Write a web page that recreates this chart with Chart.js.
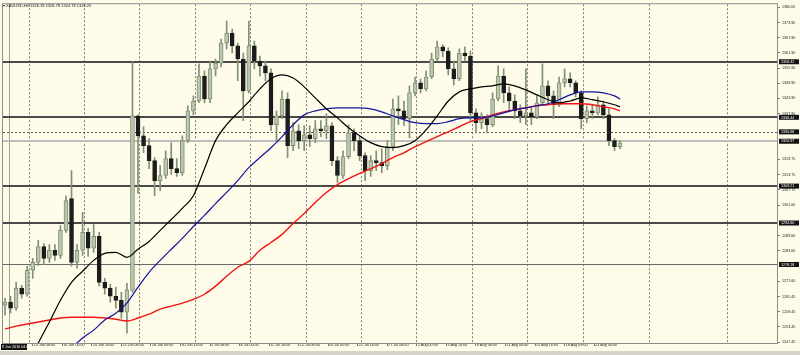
<!DOCTYPE html>
<html>
<head>
<meta charset="utf-8">
<script src="https://cdn.jsdelivr.net/npm/chart.js@4.4.1/dist/chart.umd.min.js"></script>
<style>
  html, body { margin: 0; padding: 0; background: #d6d3ca; }
  #wrap { position: relative; width: 800px; height: 351px; background: #fefce9; }
  #title { position: absolute; left: 3px; top: 3px; font: 4px 'Liberation Sans', Arial, sans-serif; color: #111; white-space: nowrap; }
</style>
</head>
<body>
<div id="wrap">
  <canvas id="cvs" width="800" height="351"></canvas>
  <div id="title">&#9662; XAUUSD,H4 1326.33 1326.78 1324.78 1326.25</div>
</div>
<script>
// time axis is in H4 bars, bar 0 = 13 Jun 00:00; each candle below = 12 hours (3 bars)
const firstBar = -13;
const barsPerCandle = 3;

const opens = [1262.1,1263.3,1260.9,1268.8,1266.4,1275.9,1279.0,1285.3,1280.6,1283.8,
  1281.8,1291.7,1304.3,1279.0,1283.8,1290.9,1284.6,1289.3,1271.1,1268.8,
  1265.6,1264.0,1259.3,1268.0,1337.0,1329.1,1325.2,1319.3,1311.4,1313.4,
  1320.1,1316.1,1314.5,1327.2,1339.0,1342.9,1352.8,1343.7,1355.6,1357.9,
  1365.8,1369.8,1364.7,1359.5,1346.9,1364.7,1358.7,1356.8,1354.0,1333.5,
  1337.0,1343.7,1325.2,1331.1,1327.2,1329.5,1328.0,1331.9,1331.1,1333.1,
  1319.3,1313.4,1320.9,1330.3,1327.2,1321.3,1315.3,1319.3,1318.5,1317.3,
  1324.8,1339.8,1339.0,1335.9,1346.1,1350.1,1347.7,1352.4,1359.5,1364.3,
  1362.7,1355.6,1351.7,1361.9,1360.7,1338.2,1334.3,1335.9,1333.5,1343.7,
  1352.8,1346.1,1342.9,1339.0,1337.0,1338.2,1336.6,1342.2,1348.9,1344.9,
  1341.4,1350.1,1351.7,1350.1,1346.1,1335.9,1339.0,1338.2,1341.4,1337.4,
  1327.2,1324.8];
const highs = [1264.8,1265.6,1271.1,1269.9,1277.5,1280.6,1287.7,1286.5,1286.1,1286.1,
  1293.6,1305.4,1315.3,1286.1,1298.8,1292.5,1294.0,1290.9,1272.7,1270.3,
  1269.2,1267.2,1270.7,1358.4,1337.4,1332.7,1328.0,1320.5,1317.3,1323.2,
  1326.4,1320.1,1329.1,1341.0,1344.9,1357.6,1354.8,1358.7,1359.5,1367.4,
  1374.5,1371.4,1365.8,1361.9,1374.5,1366.6,1360.7,1358.7,1355.6,1339.0,
  1346.9,1346.1,1334.3,1333.5,1333.1,1333.1,1335.1,1335.1,1337.8,1334.3,
  1320.9,1323.2,1333.5,1331.9,1328.8,1322.4,1321.3,1323.2,1324.0,1327.2,
  1343.7,1344.9,1342.9,1348.9,1352.4,1351.7,1354.8,1361.9,1366.6,1365.1,
  1363.9,1358.7,1363.5,1364.3,1362.7,1339.8,1338.2,1337.4,1346.1,1356.8,
  1355.6,1348.5,1345.3,1341.4,1355.6,1340.6,1344.9,1357.6,1350.9,1346.9,
  1352.4,1355.6,1354.0,1350.9,1346.9,1341.0,1341.4,1344.5,1342.9,1339.8,
  1328.0,1327.2];
const lows = [1258.1,1258.9,1260.1,1264.8,1265.6,1272.7,1277.8,1278.2,1279.0,1279.8,
  1280.6,1290.9,1277.5,1276.7,1281.8,1281.4,1283.0,1269.6,1266.4,1263.3,
  1260.9,1256.9,1251.0,1267.2,1306.3,1322.4,1316.1,1305.4,1307.4,1312.2,
  1313.8,1313.0,1313.4,1326.4,1337.4,1342.2,1342.2,1342.2,1352.8,1356.4,
  1363.5,1361.9,1350.9,1335.1,1346.1,1355.6,1352.8,1350.9,1331.1,1327.2,
  1335.9,1320.5,1323.2,1324.0,1323.2,1324.8,1326.4,1328.8,1328.0,1317.3,
  1310.6,1312.2,1320.1,1323.2,1319.3,1311.4,1313.0,1315.3,1314.5,1315.7,
  1323.2,1333.5,1333.1,1328.4,1344.9,1346.1,1346.9,1351.7,1358.7,1360.3,
  1353.2,1349.3,1350.9,1358.7,1335.1,1330.3,1331.9,1330.3,1332.7,1342.9,
  1342.2,1339.0,1335.9,1334.3,1333.5,1333.5,1335.9,1341.4,1342.2,1335.9,
  1340.6,1348.5,1348.5,1344.5,1331.9,1334.3,1335.9,1337.4,1335.9,1325.2,
  1323.2,1324.0];
const closes = [1263.3,1260.9,1268.8,1266.4,1275.9,1279.0,1285.3,1280.6,1283.8,1281.8,
  1291.7,1303.5,1279.0,1283.8,1290.9,1284.6,1289.3,1271.1,1268.8,1265.6,
  1264.0,1259.3,1268.0,1337.0,1329.1,1325.2,1319.3,1311.4,1313.4,1320.1,
  1316.1,1314.5,1327.2,1339.0,1342.9,1352.8,1343.7,1355.6,1357.9,1365.8,
  1369.8,1364.7,1359.5,1346.9,1364.7,1358.7,1356.8,1354.0,1333.5,1337.0,
  1343.7,1325.2,1331.1,1327.2,1329.5,1328.0,1331.9,1331.1,1333.1,1319.3,
  1313.4,1320.9,1330.3,1327.2,1321.3,1315.3,1319.3,1318.5,1317.3,1324.8,
  1339.8,1339.0,1335.9,1346.1,1350.1,1347.7,1352.4,1359.5,1364.3,1362.7,
  1355.6,1351.7,1361.9,1360.7,1338.2,1334.3,1335.9,1333.5,1343.7,1352.8,
  1346.1,1342.9,1339.0,1337.0,1338.2,1336.6,1342.2,1348.9,1344.9,1341.4,
  1350.1,1351.7,1350.1,1346.1,1335.9,1339.0,1338.2,1341.4,1337.4,1327.2,
  1324.8,1326.25];

// moving averages, sampled every 6 bars
const maBars = [-13,-7,-1,5,11,17,23,29,35,41,47,53,59,65,71,77,83,89,95,101,
  107,113,119,125,131,137,143,149,155,161,167,173,179,185,191,197,203,209,215,221,
  227,233,239,245,251,257,263,269,275,281,287,293,299,305,311,317,320];
const maBlack = [null,null,1238.4,1247.1,1255.4,1264.0,1271.1,1275.5,1279.8,1282.6,
  1283.0,1281.0,1284.2,1287.3,1291.7,1296.0,1300.4,1305.4,1316.1,1327.2,
  1333.5,1338.2,1342.6,1347.7,1351.7,1353.2,1352.0,1348.5,1344.1,1339.8,
  1336.2,1332.3,1329.1,1326.4,1324.8,1324.4,1325.2,1327.2,1331.5,1337.0,
  1342.9,1346.5,1347.7,1348.5,1348.9,1349.7,1348.9,1347.3,1345.3,1343.4,
  1342.2,1342.9,1344.1,1343.4,1342.6,1341.4,1340.6];
const maBlue = [null,null,null,null,null,null,1245.1,1249.1,1252.2,1256.2,
  1258.9,1262.9,1269.2,1275.1,1279.8,1284.2,1288.5,1293.2,1297.6,1302.3,
  1306.7,1311.4,1316.5,1320.5,1324.4,1328.8,1333.5,1337.4,1339.0,1339.8,
  1340.2,1340.2,1340.2,1339.8,1338.6,1337.0,1335.5,1334.3,1333.9,1333.9,
  1334.7,1335.9,1336.2,1336.2,1337.0,1338.2,1339.4,1340.2,1341.0,1341.8,
  1343.4,1345.3,1346.5,1346.5,1346.1,1344.9,1343.7];
const maRed = [1252.6,1253.8,1254.6,1255.4,1256.2,1257.0,1257.3,1257.3,1257.3,1257.0,
  1256.5,1255.8,1257.0,1258.5,1260.5,1261.7,1262.9,1264.4,1266.4,1269.6,
  1273.5,1277.1,1279.4,1283.8,1286.9,1290.1,1294.4,1298.4,1302.7,1306.7,
  1309.8,1312.2,1314.2,1316.1,1318.1,1320.5,1322.4,1324.8,1326.8,1328.8,
  1330.7,1332.7,1334.7,1335.9,1337.4,1338.6,1339.4,1340.2,1341.0,1341.4,
  1341.8,1341.8,1341.8,1341.4,1340.6,1339.8,1339.0];

// axes
const timeLabels = ['13 Jun 08:00','16 Jun 00:00','20 Jun 16:00','23 Jun 08:00','28 Jun 00:00',
  '30 Jun 16:00','5 Jul 08:00','8 Jul 00:00','12 Jul 16:00','15 Jul 08:00','20 Jul 00:00',
  '22 Jul 16:00','27 Jul 08:00','1 Aug 00:00','3 Aug 16:00','8 Aug 08:00','11 Aug 00:00',
  '15 Aug 16:00','18 Aug 08:00','23 Aug 00:00'];
const labelBars = [2,18,34,50,66,82,98,114,130,146,162,178,194,210,226,242,258,274,290,306];
// week separators; past the last bar the terminal counts calendar time, weekends included
const weekBars = [0,30,60,90,120,150,180,210,240,270,300,336,378];
const priceTicks = [1380.05,1373.90,1367.90,1361.90,1355.90,1349.90,1343.90,1337.90,
  1319.75,1313.75,1307.75,1301.60,1289.60,1283.60,1271.60,1265.45,1259.45,1253.45,1247.45];
const firstDate = '9 Jun 2016 04:00';

// horizontal line objects
const levels = [1358.42, 1336.44, 1330.68, 1326.97, 1309.21, 1294.60, 1278.18];
const levelStyle = [
  { c: '#4a4a4a', w: 2 }, { c: '#4a4a4a', w: 2 }, { c: '#555', w: 1, d: [2, 2] },
  { c: '#bdbdbd', w: 2 }, { c: '#4a4a4a', w: 2 }, { c: '#4a4a4a', w: 2 }, { c: '#6a6a6a', w: 1 }
];
const markBars = [-11];

const candleBars = opens.map((_, i) => firstBar + i * barsPerCandle);
const tickFont = { family: "'Liberation Sans', Arial, sans-serif", size: 3.7 };

const overlay = {
  id: 'overlay',
  beforeDatasetsDraw(chart) {
    const { ctx, chartArea: a, scales } = chart;
    ctx.save();
    ctx.beginPath();
    ctx.rect(a.left, a.top, a.right - a.left, a.bottom - a.top);
    ctx.clip();
    markBars.forEach(b => {
      const px = Math.round(scales.x.getPixelForValue(b)) + 0.5;
      ctx.strokeStyle = '#9aa88f';
      ctx.lineWidth = 1;
      ctx.beginPath(); ctx.moveTo(px, a.top); ctx.lineTo(px, a.bottom); ctx.stroke();
    });
    levels.forEach((p, i) => {
      const st = levelStyle[i];
      const py = Math.round(scales.y.getPixelForValue(p)) + (st.w % 2 ? 0.5 : 0);
      ctx.strokeStyle = st.c;
      ctx.lineWidth = st.w;
      ctx.setLineDash(st.d || []);
      ctx.beginPath(); ctx.moveTo(a.left, py); ctx.lineTo(a.right, py); ctx.stroke();
    });
    ctx.restore();
  },
  afterDraw(chart) {
    const { ctx, chartArea: a, scales } = chart;
    ctx.save();
    ctx.strokeStyle = '#8c8c8c';
    ctx.lineWidth = 1;
    ctx.strokeRect(a.left - 0.5, a.top - 0.5, a.right - a.left + 1, a.bottom - a.top + 1);
    ctx.font = "3.7px 'Liberation Sans', Arial, sans-serif";
    ctx.textBaseline = 'middle';
    levels.forEach(p => {
      const py = scales.y.getPixelForValue(p);
      ctx.fillStyle = '#111';
      ctx.fillRect(a.right + 2, py - 2.5, 20, 5);
      ctx.fillStyle = '#fff';
      ctx.fillText(p.toFixed(2), a.right + 4, py + 0.2);
    });
    ctx.fillStyle = '#111';
    ctx.fillRect(1, a.bottom + 1, 26, 6);
    ctx.fillStyle = '#fff';
    ctx.fillText(firstDate, 2, a.bottom + 4);
    ctx.restore();
  }
};

new Chart(document.getElementById('cvs'), {
  type: 'bar',
  data: {
    datasets: [
      {
        type: 'line', order: 0, label: 'MA black',
        data: maBars.map((b, i) => ({ x: b, y: maBlack[i] })),
        borderColor: '#000', borderWidth: 1.2, pointRadius: 0, cubicInterpolationMode: 'monotone'
      },
      {
        type: 'line', order: 0, label: 'MA blue',
        data: maBars.map((b, i) => ({ x: b, y: maBlue[i] })),
        borderColor: '#1414a0', borderWidth: 1.2, pointRadius: 0, cubicInterpolationMode: 'monotone'
      },
      {
        type: 'line', order: 0, label: 'MA red',
        data: maBars.map((b, i) => ({ x: b, y: maRed[i] })),
        borderColor: '#f01414', borderWidth: 1.4, pointRadius: 0, cubicInterpolationMode: 'monotone'
      },
      {
        order: 1, label: 'body', grouped: false, barThickness: 4,
        data: candleBars.map((b, i) => ({ x: b, y: [opens[i], closes[i]] })),
        backgroundColor: closes.map((c, i) => c >= opens[i] ? '#bcc6ae' : '#1c1c1c'),
        borderColor: closes.map((c, i) => c >= opens[i] ? '#7f9075' : '#1c1c1c'),
        borderWidth: 1, borderSkipped: false
      },
      {
        order: 2, label: 'wick', grouped: false, barThickness: 1,
        data: candleBars.map((b, i) => ({ x: b, y: [lows[i], highs[i]] })),
        backgroundColor: '#7f9075', borderWidth: 0
      }
    ]
  },
  options: {
    responsive: false,
    animation: false,
    events: [],
    layout: { padding: { left: 3, top: 3, right: 0, bottom: 0 } },
    plugins: { legend: { display: false }, tooltip: { enabled: false } },
    scales: {
      x: {
        type: 'linear', min: -14.1, max: 405, offset: false, position: 'bottom',
        afterBuildTicks: s => { s.ticks = labelBars.map(v => ({ value: v })); },
        afterFit: s => { s.height = 8; },
        grid: { offset: false, drawOnChartArea: false, tickLength: 3, color: '#777' },
        border: { display: true, color: '#8c8c8c' },
        ticks: {
          autoSkip: false, maxRotation: 0, align: 'start', padding: -3,
          font: tickFont, color: '#222',
          callback: v => ' ' + timeLabels[labelBars.indexOf(v)]
        }
      },
      xw: {
        type: 'linear', min: -14.1, max: 405, offset: false, position: 'bottom',
        afterBuildTicks: s => { s.ticks = weekBars.map(v => ({ value: v })); },
        afterFit: s => { s.height = 0; },
        grid: { offset: false, drawOnChartArea: true, drawTicks: false, color: '#7a7a7a', lineWidth: 1 },
        border: { display: false, dash: [2, 2] },
        ticks: { display: false }
      },
      y: {
        type: 'linear', position: 'right', min: 1247.1, max: 1381.2,
        afterBuildTicks: s => { s.ticks = priceTicks.map(v => ({ value: v })); },
        afterFit: s => { s.width = 23; },
        grid: { drawOnChartArea: false, tickLength: 3, color: '#777' },
        border: { display: true, color: '#666' },
        ticks: { padding: 2, font: tickFont, color: '#222', callback: v => v.toFixed(2) }
      }
    }
  },
  plugins: [overlay]
});
</script>
</body>
</html>
